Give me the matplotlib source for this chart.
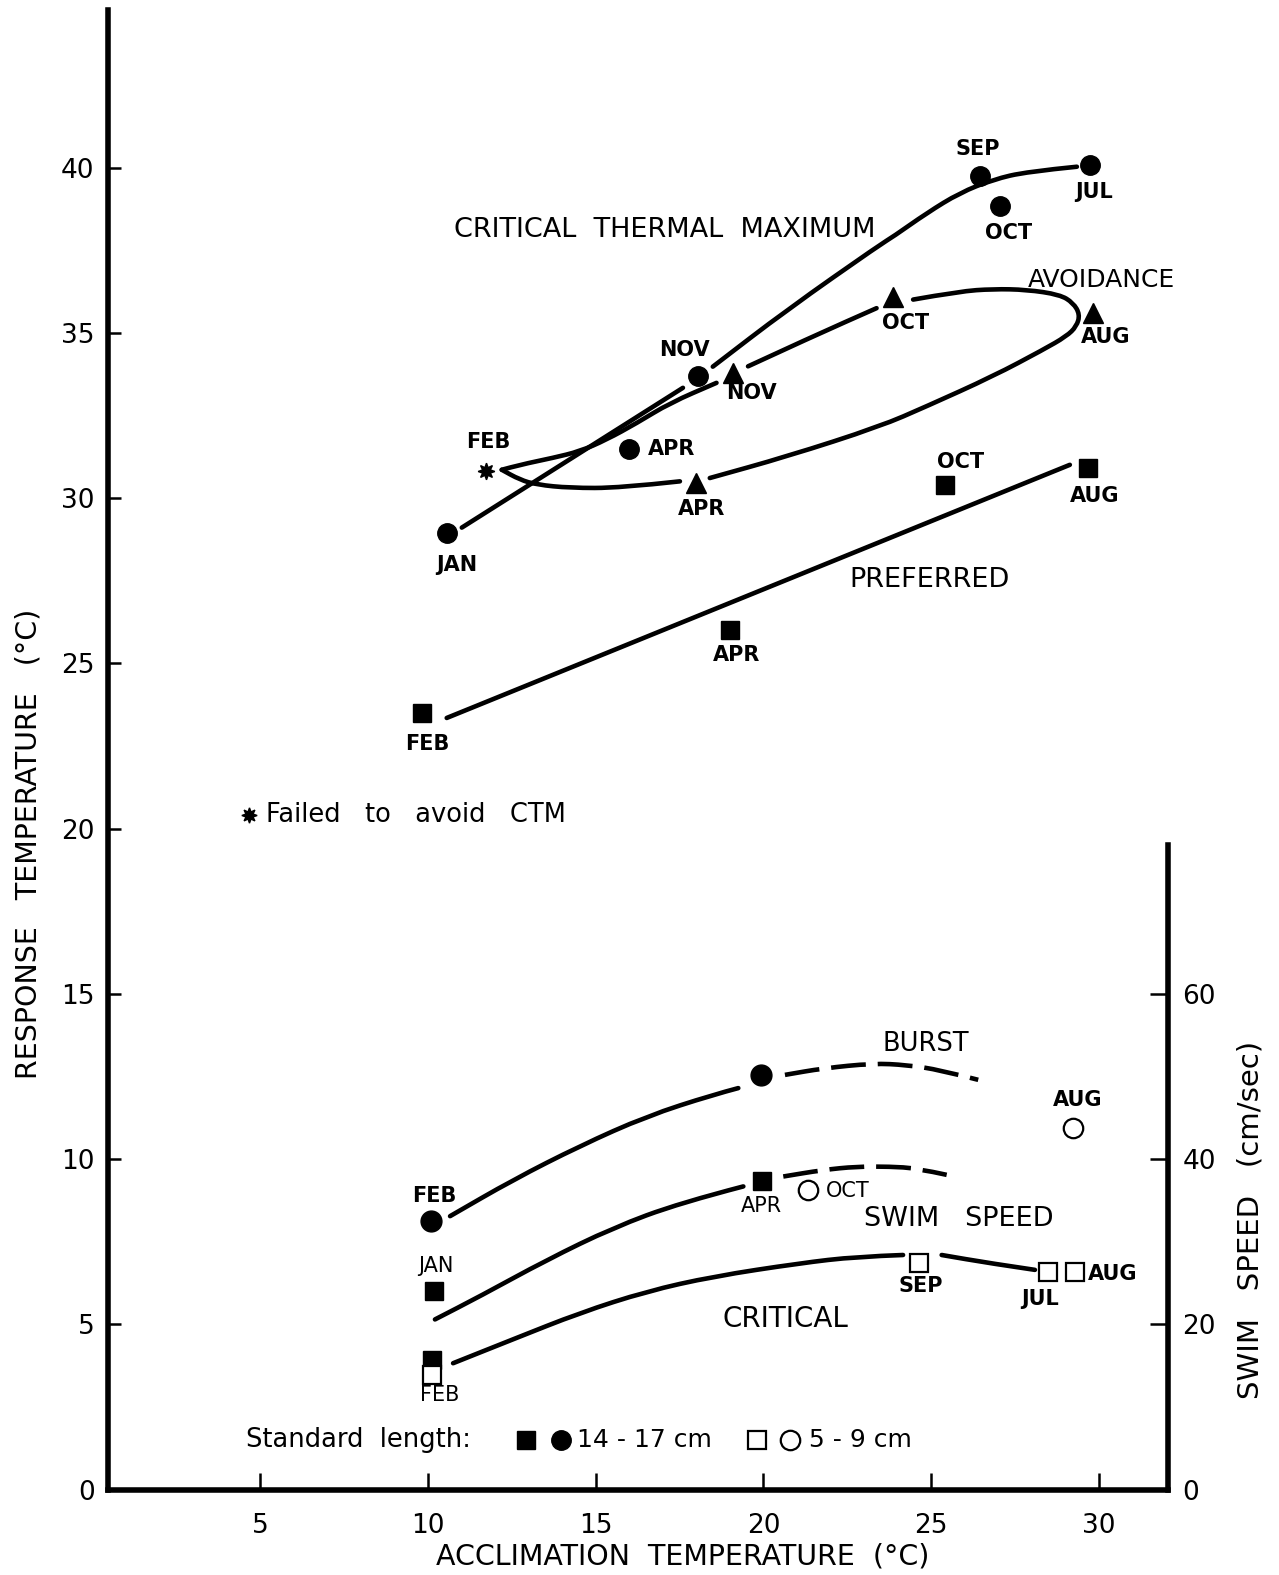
import numpy as np
import matplotlib
matplotlib.use("Agg")
import matplotlib.pyplot as plt
from matplotlib.path import Path
from matplotlib.patches import PathPatch

plt.rcParams['font.family'] = ['DejaVu Sans']

# ---- data (acclimation temp, response temp / swim speed) ----
# critical thermal maximum (filled circles)
ctm_x = [10.56, 16.0, 18.05, 26.45, 27.04, 29.73]
ctm_y = [28.95, 31.5, 33.69, 39.74, 38.83, 40.09]
ctm_lab = ["JAN", "APR", "NOV", "SEP", "OCT", "JUL"]
ctm_curve_x = [11.01, 17.6, np.nan, 18.49, 20.7, 23.47, 23.86, 24.87, 25.85, 26.84, 27.85, 29.34]
ctm_curve_y = [29.11, 33.34, np.nan, 33.98, 35.7, 37.67, 37.91, 38.63, 39.24, 39.64, 39.88, 40.03]

# avoidance (filled triangles), FEB failed to avoid
avoid_x = [18.0, 19.1, 23.87, 29.82]
avoid_y = [30.46, 33.79, 36.1, 35.6]
avoid_lab = ["APR", "NOV", "OCT", "AUG"]
failed_x, failed_y = 11.73, 30.81
avoid_curve_x = [12.20, 12.74, 13.24, 14.23, 15.72, 17.51, np.nan,
                 18.40, 20.69, 23.47, 24.86, 26.84, 28.33, 29.03, 29.33, 29.43,
                 29.23, 28.83, 27.84, 26.84, 25.85, 24.46, np.nan,
                 23.37, 21.48, 19.54, np.nan,
                 18.60, 17.21, 16.22, 15.32, 14.53, 13.73, 12.74, 12.20]
avoid_curve_y = [30.86, 30.56, 30.41, 30.31, 30.31, 30.51, np.nan,
                 30.61, 31.26, 32.17, 32.78, 33.69, 34.49, 34.90, 35.20, 35.56,
                 35.91, 36.16, 36.31, 36.33, 36.26, 36.01, np.nan,
                 35.75, 34.90, 33.99, np.nan,
                 33.49, 32.88, 32.27, 31.77, 31.42, 31.22, 31.01, 30.86]

# preferred (filled squares)
pref_x = [9.81, 19.0, 25.4, 29.68]
pref_y = [23.5, 26.02, 30.41, 30.91]
pref_lab = ["FEB", "APR", "OCT", "AUG"]
pref_line_x = [10.56, 29.13]
pref_line_y = [23.35, 31.01]

# swim speed (cm/sec)
burst_x = [10.08, 19.92]
burst_v = [32.5, 50.2]
burst_small_x = [21.33, 29.23]
burst_small_v = [36.3, 43.8]
crit_big_x = [10.18, 10.11, 19.97]
crit_big_v = [24.0, 15.7, 37.3]
crit_small_x = [10.11, 24.63, 28.48, 29.28]
crit_small_v = [13.9, 27.4, 26.4, 26.4]

burst_solid_x = [10.66, 12.54, 14.53, 16.52, 18.50, 19.25]
burst_solid_v = [33.1, 37.5, 41.6, 45.2, 47.8, 48.6]
burst_dash_x = [20.64, 21.78, 23.27, 24.26, 25.26, 26.40]
burst_dash_v = [50.2, 51.0, 51.6, 51.4, 50.8, 49.6]
mid_solid_x = [10.21, 11.55, 13.54, 15.52, 17.51, 19.40]
mid_solid_v = [20.6, 23.4, 27.8, 31.7, 34.7, 36.7]
mid_dash_x = [20.59, 21.78, 22.77, 23.77, 24.56, 25.46]
mid_dash_v = [37.9, 38.7, 39.1, 39.1, 38.9, 38.1]
crit_curve_x = [10.75, 12.54, 14.53, 16.52, 18.50, 21.08, 22.77, 24.16, np.nan,
                25.31, 26.75, 28.09]
crit_curve_v = [15.3, 18.2, 21.4, 24.0, 25.8, 27.4, 28.2, 28.4, np.nan,
                28.4, 27.4, 26.6]

x_ticks = [5, 10, 15, 20, 25, 30]
y_ticks = [0, 5, 10, 15, 20, 25, 30, 35, 40]
v_ticks = [0, 20, 40, 60]


def smooth_curve(a, xs, ys, **kw):
    # hand-drawn look: quadratic bezier through the read points, split at nan gaps
    xs = np.asarray(xs, float)
    ys = np.asarray(ys, float)
    brk = np.where(np.isnan(xs))[0]
    for seg in np.split(np.arange(len(xs)), brk):
        seg = seg[~np.isnan(xs[seg])]
        p = np.column_stack([xs[seg], ys[seg]])
        if len(p) < 3:
            verts, codes = list(p), [Path.MOVETO] + [Path.LINETO] * (len(p) - 1)
        else:
            verts = [p[0], (p[0] + p[1]) / 2]
            codes = [Path.MOVETO, Path.LINETO]
            for i in range(1, len(p) - 1):
                end = (p[i] + p[i + 1]) / 2 if i < len(p) - 2 else p[i + 1]
                verts += [p[i], end]
                codes += [Path.CURVE3, Path.CURVE3]
        a.add_patch(PathPatch(Path(verts, codes), fill=False, **kw))


# ---- figure ----
fig = plt.figure(figsize=(12.79, 15.75), dpi=100)
ax = fig.add_axes([0.0848, 0.0542, 0.8288, 0.9394])
ax2 = ax.twinx()

xmin, xmax = 0.48, 32.07
ymax = 44.77
ax.set_xlim(xmin, xmax)
ax.set_ylim(0, ymax)
ax2.set_ylim(0, 4 * ymax)

K = "black"
LW = 3.3
dash = (0, (7.6, 2.6))

# curves
smooth_curve(ax, ctm_curve_x, ctm_curve_y, ec=K, lw=LW, capstyle="round")
smooth_curve(ax, avoid_curve_x, avoid_curve_y, ec=K, lw=LW, capstyle="round")
ax.plot(pref_line_x, pref_line_y, color=K, lw=LW, solid_capstyle="round")

smooth_curve(ax2, burst_solid_x, burst_solid_v, ec=K, lw=LW, capstyle="round")
smooth_curve(ax2, burst_dash_x, burst_dash_v, ec=K, lw=LW, ls=dash)
smooth_curve(ax2, mid_solid_x, mid_solid_v, ec=K, lw=LW, capstyle="round")
smooth_curve(ax2, mid_dash_x, mid_dash_v, ec=K, lw=LW, ls=dash)
smooth_curve(ax2, crit_curve_x, crit_curve_v, ec=K, lw=LW, capstyle="round")

# markers
ax.plot(ctm_x, ctm_y, "o", color=K, ms=14, ls="none")
ax.plot(avoid_x, avoid_y, "^", color=K, ms=15, ls="none")
ax.plot(failed_x, failed_y, marker=(8, 1, 0), color=K, ms=12, ls="none")
ax.plot(pref_x, pref_y, "s", color=K, ms=13, ls="none")

ax2.plot(burst_x, burst_v, "o", color=K, ms=15, ls="none")
ax2.plot(burst_small_x, burst_small_v, "o", mfc="white", mec=K, mew=1.6, ms=14, ls="none")
ax2.plot(crit_big_x, crit_big_v, "s", color=K, ms=13, ls="none")
ax2.plot(crit_small_x, crit_small_v, "s", mfc="white", mec=K, mew=1.6, ms=13, ls="none")

# ---- text labels ----
mfs = 15
def lab(a, x, y, s, ha="center", fs=mfs, w="bold"):
    a.text(x, y, s, ha=ha, va="center", fontsize=fs, fontweight=w)

lab(ax, 26.38, 40.58, "SEP")
lab(ax, 29.85, 39.27, "JUL")
lab(ax, 27.31, 38.02, "OCT")
lab(ax, 17.63, 34.47, "NOV")
lab(ax, 19.64, 33.19, "NOV")
lab(ax, 16.56, 31.49, "APR", ha="left")
lab(ax, 11.80, 31.70, "FEB")
lab(ax, 10.87, 27.99, "JAN")
lab(ax, 18.17, 29.67, "APR")
lab(ax, 24.22, 35.29, "OCT")
lab(ax, 30.21, 34.89, "AUG")
lab(ax, 25.87, 31.09, "OCT")
lab(ax, 29.88, 30.06, "AUG")
lab(ax, 19.19, 25.26, "APR")
lab(ax, 9.97, 22.55, "FEB")

lab(ax, 17.07, 38.12, "CRITICAL  THERMAL  MAXIMUM", fs=19.5, w="normal")
lab(ax, 30.06, 36.60, "AVOIDANCE", fs=18, w="normal")
lab(ax, 24.94, 27.51, "PREFERRED", fs=19.5, w="normal")

ax.plot(4.67, 20.40, marker=(8, 1, 0), color=K, ms=11, ls="none")
ax.text(5.18, 20.40, "Failed   to   avoid   CTM", ha="left", va="center", fontsize=18.5)

lab(ax2, 24.85, 53.9, "BURST", fs=18.5, w="normal")
lab(ax2, 29.37, 47.2, "AUG")
lab(ax2, 10.18, 35.5, "FEB")
lab(ax2, 19.94, 34.3, "APR", w="normal")
lab(ax2, 21.85, 36.2, "OCT", ha="left", w="normal")
lab(ax2, 25.81, 32.7, "SWIM   SPEED", fs=19.5, w="normal")
lab(ax2, 10.24, 27.1, "JAN", w="normal")
lab(ax2, 24.70, 24.6, "SEP")
lab(ax2, 28.23, 23.1, "JUL")
lab(ax2, 30.42, 26.1, "AUG")
lab(ax2, 20.66, 20.7, "CRITICAL", fs=20, w="normal")
lab(ax2, 10.36, 11.4, "FEB", w="normal")

# legend line
ly = 1.49
ax.text(4.58, ly, "Standard  length:", ha="left", va="center", fontsize=18.5)
ax.plot(12.92, ly, "s", color=K, ms=13)
ax.plot(13.98, ly, "o", color=K, ms=14)
ax.text(14.45, ly, "14 - 17 cm", ha="left", va="center", fontsize=18)
ax.plot(19.80, ly, "s", mfc="white", mec=K, mew=1.6, ms=13)
ax.plot(20.80, ly, "o", mfc="white", mec=K, mew=1.6, ms=14)
ax.text(21.35, ly, "5 - 9 cm", ha="left", va="center", fontsize=18)

# ---- axes styling ----
for s in ["top", "right"]:
    ax.spines[s].set_visible(False)
for s in ["top", "left", "bottom"]:
    ax2.spines[s].set_visible(False)
ax.spines["left"].set_linewidth(4)
ax.spines["bottom"].set_linewidth(4)
ax2.spines["right"].set_linewidth(4)
ax2.spines["right"].set_bounds(0, 78)

ax.set_xticks(x_ticks)
ax.set_yticks(y_ticks)
ax2.set_yticks(v_ticks)
ax.tick_params(axis="x", direction="in", length=12, width=1.8, pad=17, labelsize=19)
ax.tick_params(axis="y", direction="in", length=9, width=1.8, pad=10, labelsize=19)
ax2.tick_params(axis="y", direction="in", length=13, width=1.8, pad=10, labelsize=19)

ax.set_xlabel("ACCLIMATION  TEMPERATURE  (°C)", fontsize=20.5, va="center")
ax.xaxis.set_label_coords(0.542, -0.0455)
ax.set_ylabel("RESPONSE   TEMPERATURE   (°C)", fontsize=20.5, va="center")
ax.yaxis.set_label_coords(-0.0758, 0.4365)
ax2.set_ylabel("SWIM   SPEED   (cm/sec)", fontsize=21, va="center")
ax2.yaxis.set_label_coords(1.0777, 0.182)

fig.savefig("out.png", dpi=100, facecolor="white")
